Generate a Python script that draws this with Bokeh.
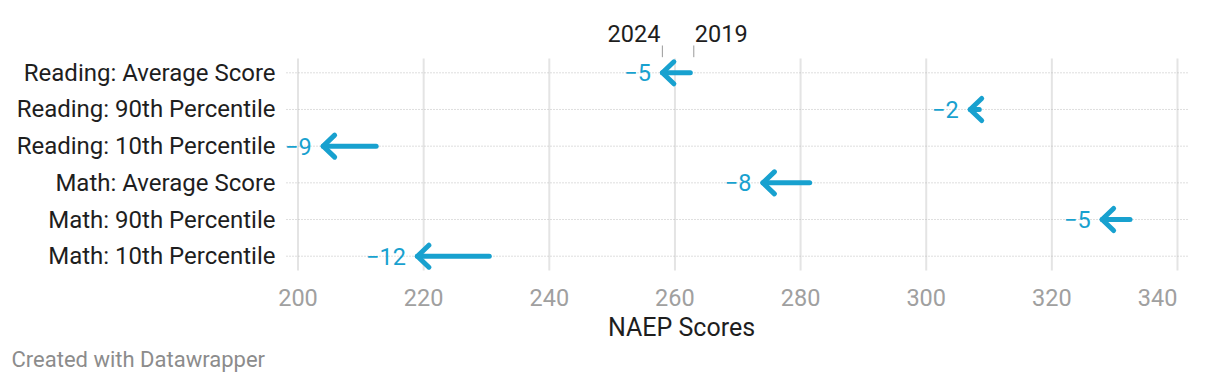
from bokeh.plotting import figure
from bokeh.models import Range1d
from bokeh.core.properties import value
from bokeh.embed import file_html
from bokeh.resources import INLINE

# ---- data ----
categories = [
    "Reading: Average Score",
    "Reading: 90th Percentile",
    "Reading: 10th Percentile",
    "Math: Average Score",
    "Math: 90th Percentile",
    "Math: 10th Percentile",
]
score_2019 = [263, 309, 213, 282, 333, 231]
score_2024 = [258, 307, 204, 274, 328, 219]
x_ticks = [200, 220, 240, 260, 280, 300, 320, 340]
year_labels = ["2019", "2024"]
x_title = "NAEP Scores"
credit = "Created with Datawrapper"

# ---- style / layout (pixels) ----
BLUE = "#18a1cf"
FONT = value("Roboto")
W, H = 1220, 384
PPX = 6.282          # px per score point
PPY = 36.68          # px per row
X_AT_0 = 152.64      # score value at the canvas left edge
ROW_TOP_PX = 72.3    # pixel row of the first category
PAD = 0.39           # row padding above/below (rows)
TAIL_TRIM = 3.5      # px, so the round cap ends at the value

n = len(categories)
ys = [n - 1 - i for i in range(n)]
change = [b - a for a, b in zip(score_2019, score_2024)]
labels = ["\u2212" + str(abs(c)) for c in change]

y_top = (n - 1) + ROW_TOP_PX / PPY
x_end = X_AT_0 + W / PPX
y_end = y_top - H / PPY


def xpx(px):
    return X_AT_0 + px / PPX


def ypx(py):
    return y_top - py / PPY


p = figure(width=W, height=H, x_range=Range1d(X_AT_0, x_end),
           y_range=Range1d(y_end, y_top),
           output_backend="svg", toolbar_location=None,
           min_border=0)
p.outline_line_color = None
p.background_fill_color = "white"
p.border_fill_color = "white"
p.axis.visible = False
p.grid.visible = False

lo, hi = -PAD, (n - 1) + PAD
x_left = x_ticks[0] - 11.5 / PPX
x_right = x_ticks[-1] + 11 / PPX

# vertical grid lines
p.segment(x0=x_ticks, y0=[lo] * len(x_ticks), x1=x_ticks, y1=[hi] * len(x_ticks),
          line_color="#e4e4e4", line_width=2)
# dotted row lines
p.segment(x0=[x_left] * n, y0=ys, x1=[x_right] * n, y1=ys,
          line_color="#bdbdbd", line_width=1, line_dash="1 2")

# category labels
p.text(x=[x_left - 11 / PPX] * n, y=ys, text=categories,
       text_align="right", text_baseline="middle", text_font=FONT,
       text_font_size="24px", text_color="#1e1e1e")

# arrows
dx = 11.5 / PPX
dy = 11.0 / PPY
p.segment(x0=[a - TAIL_TRIM / PPX for a in score_2019], y0=ys, x1=score_2024, y1=ys,
          line_color=BLUE, line_width=5, line_cap="round")
p.multi_line(xs=[[b + dx, b, b + dx] for b in score_2024],
             ys=[[y + dy, y, y - dy] for y in ys],
             line_color=BLUE, line_width=5, line_cap="round", line_join="round")
p.text(x=score_2024, y=ys, text=labels, x_offset=-11.5,
       text_align="right", text_baseline="middle", text_font=FONT,
       text_font_size="23.5px", text_color=BLUE)

# year key above the first row
key_x = [score_2024[0], score_2019[0]]
p.segment(x0=key_x, y0=[hi + 1.3 / PPY] * 2, x1=key_x, y1=[hi + 13 / PPY] * 2,
          line_color="#9a9a9a", line_width=1)
p.text(x=key_x, y=[hi + 24.6 / PPY] * 2, text=[year_labels[1], year_labels[0]],
       x_offset=[-2, 1], text_align=["right", "left"], text_baseline="middle",
       text_font=FONT, text_font_size="23.5px", text_color="#1e1e1e")

# x tick labels
p.text(x=x_ticks, y=[lo - 27 / PPY] * len(x_ticks), text=[str(t) for t in x_ticks],
       text_align=["right" if t == x_ticks[-1] else "center" for t in x_ticks],
       text_baseline="middle", text_font=FONT, text_font_size="23.5px",
       text_color="#a0a0a0")

# axis title and credit
p.text(x=[xpx(681)], y=[lo - 57.4 / PPY], text=[x_title],
       text_align="center", text_baseline="middle", text_font=FONT,
       text_font_size="25px", text_color="#1e1e1e")
p.text(x=[xpx(11)], y=[ypx(358.5)], text=[credit],
       text_align="left", text_baseline="middle", text_font=FONT,
       text_font_size="22px", text_color="#8c8c8c")

open("out.html", "w").write(file_html(p, INLINE))
